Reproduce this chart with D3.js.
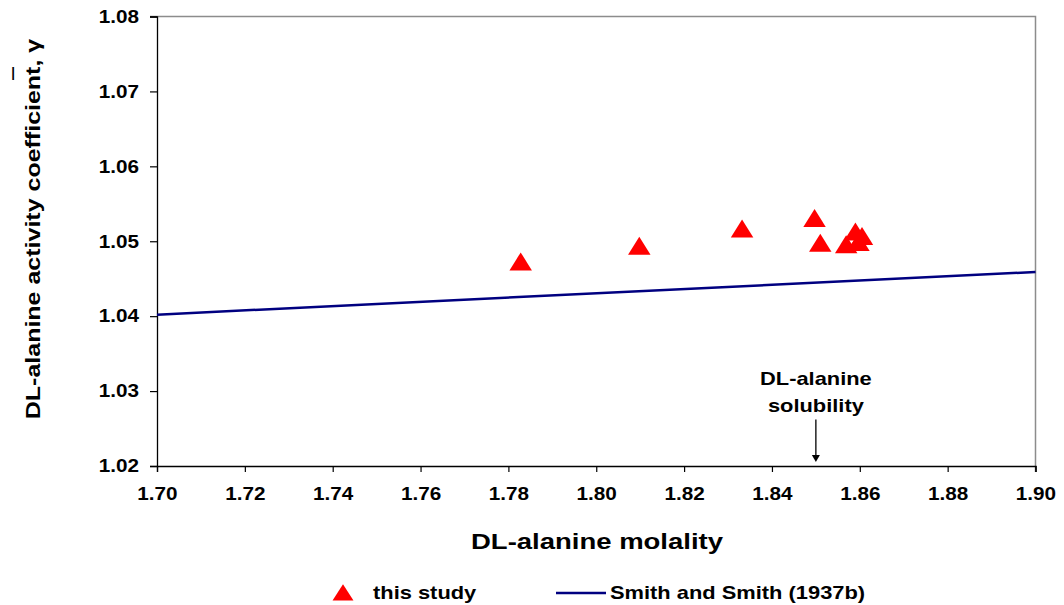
<!DOCTYPE html>
<html>
<head>
<meta charset="utf-8">
<script src="https://cdn.jsdelivr.net/npm/d3@7"></script>
<style>
  html, body { margin: 0; padding: 0; background: #fff; }
  svg { display: block; }
  text { font-family: "Liberation Sans", Arial, sans-serif; font-weight: bold; fill: #000; }
</style>
</head>
<body>
<svg id="chart" width="1064" height="605"></svg>
<script>
// Measured activity coefficients (this study)
const studyMolality = [1.7828, 1.8098, 1.8332, 1.8497, 1.8510, 1.8569, 1.8590, 1.8597, 1.8605];
const studyGamma    = [1.0471, 1.0492, 1.0515, 1.0529, 1.0496, 1.0494, 1.0511, 1.0497, 1.0505];

// Smith and Smith (1937b) correlation
const smithMolality = [1.70, 1.90];
const smithGamma    = [1.0402, 1.0459];

// Solubility marker
const solubilityMolality = 1.850;

// Axis ticks
const xTicks = [1.70, 1.72, 1.74, 1.76, 1.78, 1.80, 1.82, 1.84, 1.86, 1.88, 1.90];
const yTicks = [1.02, 1.03, 1.04, 1.05, 1.06, 1.07, 1.08];

const svg = d3.select("#chart");
const plot = { left: 157, right: 1035.5, top: 16.5, bottom: 466 };
const SX = 1.25;      // horizontal stretch of the lettering
const SX_TICK = 1.15; // stretch of the tick labels

const x = d3.scaleLinear().domain([1.70, 1.90]).range([plot.left, plot.right]);
const y = d3.scaleLinear().domain([1.02, 1.08]).range([plot.bottom, plot.top]);

// frame: grey top and right edges
svg.append("path")
  .attr("d", `M${plot.left - 7},${plot.top}H${plot.right}V${plot.bottom + 6}`)
  .attr("fill", "none").attr("stroke", "#8c8c8c").attr("stroke-width", 1.5);

// x axis
const gx = svg.append("g").attr("transform", `translate(0,${plot.bottom})`)
  .call(d3.axisBottom(x).tickValues(xTicks).tickFormat(d3.format(".2f")).tickSizeOuter(0).tickSize(6).tickPadding(15));
gx.selectAll("text").style("font-size", "18px").attr("transform", `scale(${SX_TICK},1)`).attr("dy", "0.71em");

// y axis
const gy = svg.append("g").attr("transform", `translate(${plot.left},0)`)
  .call(d3.axisLeft(y).tickValues(yTicks).tickFormat(d3.format(".2f")).tickSizeOuter(0).tickSize(7).tickPadding(11));
gy.selectAll("text").style("font-size", "18px").each(function () {
  const t = d3.select(this);
  const xx = +t.attr("x");
  t.attr("x", xx / SX_TICK).attr("transform", `scale(${SX_TICK},1)`);
});
[gx, gy].forEach(g => {
  g.select(".domain").attr("stroke", "#000").attr("stroke-width", 1.3);
  g.selectAll(".tick line").attr("stroke", "#000").attr("stroke-width", 1.2);
});

// Smith and Smith line
const line = d3.line().x(d => x(d[0])).y(d => y(d[1]));
svg.append("path")
  .datum(d3.zip(smithMolality, smithGamma))
  .attr("d", line)
  .attr("fill", "none").attr("stroke", "#000080").attr("stroke-width", 2.5);

// study points
const tri = d3.symbol().type(d3.symbolTriangle).size(210);
svg.append("g").selectAll("path")
  .data(d3.zip(studyMolality, studyGamma))
  .join("path")
  .attr("d", tri)
  .attr("transform", d => `translate(${x(d[0])},${y(d[1]) + 1.5}) scale(1.02,0.95)`)
  .attr("fill", "#ff0000");

// solubility annotation
const sx = x(solubilityMolality);
svg.append("line")
  .attr("x1", sx).attr("x2", sx).attr("y1", y(1.0262)).attr("y2", plot.bottom - 9)
  .attr("stroke", "#000").attr("stroke-width", 1.3);
svg.append("path")
  .attr("d", `M${sx - 4},${plot.bottom - 11}L${sx + 4},${plot.bottom - 11}L${sx},${plot.bottom - 4}Z`)
  .attr("fill", "#000");

function stretched(txt, px, py, size, anchor = "middle", rot = 0) {
  return svg.append("text")
    .attr("transform", `translate(${px},${py}) rotate(${rot}) scale(${SX},1)`)
    .attr("text-anchor", anchor)
    .style("font-size", size + "px")
    .text(txt);
}
stretched("DL-alanine", sx, 385, 17.5);
stretched("solubility", sx, 412, 17.5);

// axis titles
stretched("DL-alanine molality", 597, 549, 22);
stretched("DL-alanine activity coefficient, γ", 40, 229, 20, "middle", -90);
svg.append("text")
  .attr("x", 11).attr("y", 80)
  .style("font-size", "19px").style("font-weight", "normal")
  .text("l");

// legend
svg.append("path").attr("d", tri).attr("transform", "translate(343,595) scale(0.95,0.85)").attr("fill", "#ff0000");
stretched("this study", 373, 599, 17.5, "start");
svg.append("line").attr("x1", 556).attr("x2", 606).attr("y1", 593).attr("y2", 593)
  .attr("stroke", "#000080").attr("stroke-width", 2.5);
stretched("Smith and Smith (1937b)", 610, 599, 17.5, "start");
</script>
</body>
</html>
